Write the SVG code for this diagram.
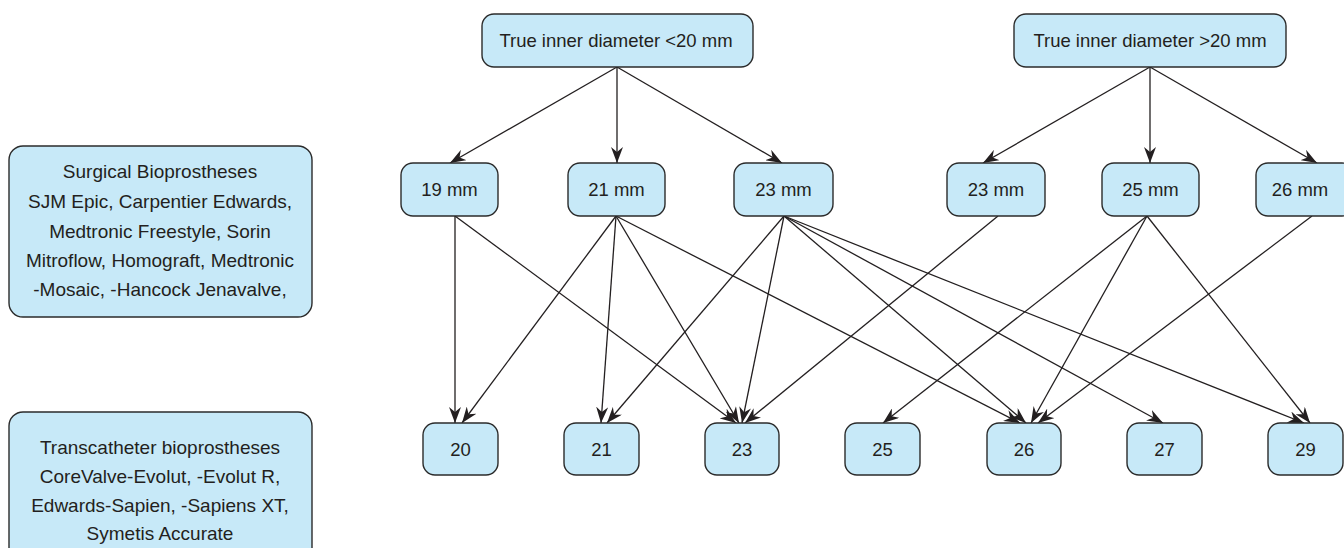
<svg xmlns="http://www.w3.org/2000/svg" width="1344" height="548" viewBox="0 0 1344 548">
<style>
.box{fill:#c7e9f8;stroke:#2b2b2b;stroke-width:1.4}
.t{font-family:"Liberation Sans",Arial,sans-serif;font-size:18.5px;fill:#231f20;text-anchor:middle}
.l{font-size:19px}
.e{stroke:#231f20;stroke-width:1.3;fill:none;marker-end:url(#ah)}
</style>
<defs>
<marker id="ah" viewBox="0 0 16 12" refX="16" refY="6" markerWidth="16" markerHeight="12" markerUnits="userSpaceOnUse" orient="auto">
<path d="M0,0 L16,6 L0,12 L5,6 z" fill="#231f20"/>
</marker>
</defs>
<rect width="1344" height="548" fill="#ffffff"/>
<g id="connectors">
<line class="e" x1="617" y1="67" x2="450" y2="163"/>
<line class="e" x1="617" y1="67" x2="617" y2="163"/>
<line class="e" x1="617" y1="67" x2="782" y2="163"/>
<line class="e" x1="1150" y1="67" x2="983" y2="163"/>
<line class="e" x1="1150" y1="67" x2="1150" y2="163"/>
<line class="e" x1="1150" y1="67" x2="1317" y2="163"/>
<line class="e" x1="455" y1="216" x2="455" y2="423"/>
<line class="e" x1="455" y1="216" x2="736" y2="423"/>
<line class="e" x1="616" y1="216" x2="462" y2="423"/>
<line class="e" x1="616" y1="216" x2="601" y2="423"/>
<line class="e" x1="616" y1="216" x2="739" y2="423"/>
<line class="e" x1="616" y1="216" x2="1020" y2="423"/>
<line class="e" x1="784" y1="216" x2="607" y2="423"/>
<line class="e" x1="784" y1="216" x2="742" y2="423"/>
<line class="e" x1="784" y1="216" x2="1026" y2="423"/>
<line class="e" x1="784" y1="216" x2="1163" y2="423"/>
<line class="e" x1="784" y1="216" x2="1304" y2="423"/>
<line class="e" x1="998" y1="216" x2="745" y2="423"/>
<line class="e" x1="1147" y1="216" x2="883" y2="423"/>
<line class="e" x1="1147" y1="216" x2="1031" y2="423"/>
<line class="e" x1="1147" y1="216" x2="1310" y2="423"/>
<line class="e" x1="1312" y1="216" x2="1038" y2="423"/>
</g>
<g id="surgical">
<rect class="box" x="9" y="146" width="303" height="171" rx="14"/>
<text class="t l" x="160" y="178">Surgical Bioprostheses</text>
<text class="t l" x="160" y="208">SJM Epic, Carpentier Edwards,</text>
<text class="t l" x="160" y="238">Medtronic Freestyle, Sorin</text>
<text class="t l" x="160" y="267">Mitroflow, Homograft, Medtronic</text>
<text class="t l" x="160" y="296">-Mosaic, -Hancock Jenavalve,</text>
</g>
<g id="transcatheter">
<rect class="box" x="9" y="412" width="303" height="160" rx="14"/>
<text class="t l" x="160" y="454">Transcatheter bioprostheses</text>
<text class="t l" x="160" y="483">CoreValve-Evolut, -Evolut R,</text>
<text class="t l" x="160" y="512">Edwards-Sapien, -Sapiens XT,</text>
<text class="t l" x="160" y="540">Symetis Accurate</text>
</g>
<g id="top-lt20">
<rect class="box" x="482" y="14" width="271" height="53" rx="12"/>
<text class="t" x="616" y="47">True inner diameter &lt;20 mm</text>
</g>
<g id="top-gt20">
<rect class="box" x="1014" y="14" width="272" height="53" rx="12"/>
<text class="t" x="1150" y="47">True inner diameter &gt;20 mm</text>
</g>
<g id="m19">
<rect class="box" x="401" y="163" width="97" height="53" rx="12"/>
<text class="t" x="449.5" y="196">19 mm</text>
</g>
<g id="m21">
<rect class="box" x="568" y="163" width="97" height="53" rx="12"/>
<text class="t" x="616.5" y="196">21 mm</text>
</g>
<g id="m23a">
<rect class="box" x="734" y="163" width="99" height="53" rx="12"/>
<text class="t" x="783.5" y="196">23 mm</text>
</g>
<g id="m23b">
<rect class="box" x="947" y="163" width="98" height="53" rx="12"/>
<text class="t" x="996" y="196">23 mm</text>
</g>
<g id="m25">
<rect class="box" x="1102" y="163" width="97" height="53" rx="12"/>
<text class="t" x="1150.5" y="196">25 mm</text>
</g>
<g id="m26">
<rect class="box" x="1256" y="163" width="98" height="53" rx="12"/>
<text class="t" x="1300" y="196">26 mm</text>
</g>
<g id="b20">
<rect class="box" x="423" y="423" width="75" height="52" rx="12"/>
<text class="t" x="460.5" y="456">20</text>
</g>
<g id="b21">
<rect class="box" x="564" y="423" width="75" height="52" rx="12"/>
<text class="t" x="601.5" y="456">21</text>
</g>
<g id="b23">
<rect class="box" x="705" y="423" width="74" height="52" rx="12"/>
<text class="t" x="742" y="456">23</text>
</g>
<g id="b25">
<rect class="box" x="845" y="423" width="75" height="52" rx="12"/>
<text class="t" x="882.5" y="456">25</text>
</g>
<g id="b26">
<rect class="box" x="987" y="423" width="74" height="52" rx="12"/>
<text class="t" x="1024" y="456">26</text>
</g>
<g id="b27">
<rect class="box" x="1127" y="423" width="75" height="52" rx="12"/>
<text class="t" x="1164.5" y="456">27</text>
</g>
<g id="b29">
<rect class="box" x="1268" y="423" width="75" height="52" rx="12"/>
<text class="t" x="1305.5" y="456">29</text>
</g>
</svg>
